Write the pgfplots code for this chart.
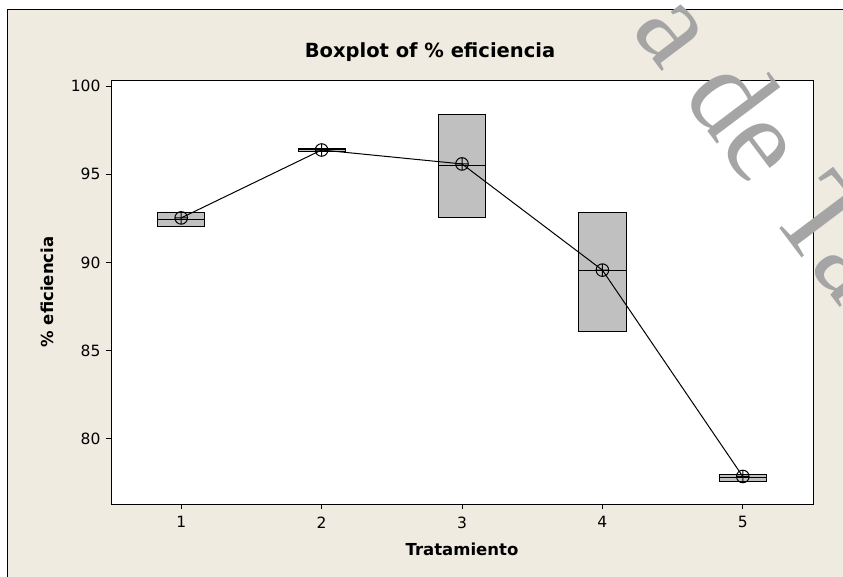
\documentclass[border=0pt]{standalone}
\usepackage{pgfplots}
\pgfplotsset{compat=1.18}
\usepgfplotslibrary{statistics}
\usepackage{fontspec}
\setmainfont{DejaVu Sans}
\newfontfamily\wmfont{Liberation Serif}
\definecolor{mtbg}{RGB}{239,235,224}
\definecolor{boxgray}{RGB}{192,192,192}
\definecolor{wmgray}{RGB}{165,165,165}

\begin{document}
\begin{tikzpicture}[x=1pt,y=1pt]
\path[use as bounding box] (0,0) rectangle (843,577);
\draw[line width=0.8pt, fill=mtbg] (7,-10) rectangle (870,568);
\node[font=\fontsize{19.5}{20}\selectfont\bfseries, anchor=base] at (430,519) {Boxplot of \% eficiencia};
\begin{axis}[
	at={(111pt,73pt)}, anchor=south west,
	scale only axis, width=702pt, height=424pt,
	xmin=0.5, xmax=5.5, ymin=76.3, ymax=100.34,
	xtick={1,2,3,4,5}, ytick={80,85,90,95,100},
	tick align=outside, xtick pos=bottom, ytick pos=left,
	major tick length=5pt,
	tick style={black, line width=0.7pt},
	axis line style={line width=0.9pt},
	axis background/.style={fill=white},
	/pgf/number format/assume math mode=true,
	ticklabel style={font=\fontsize{15.5}{16}\selectfont},
	xticklabel style={yshift=-4pt},
	yticklabel style={xshift=-2pt},
	xlabel={Tratamiento}, ylabel={\% eficiencia},
	label style={font=\fontsize{16.5}{17}\selectfont\bfseries},
	xlabel style={at={(axis description cs:0.5,-0.107)}, anchor=center},
	ylabel style={at={(axis description cs:-0.0912,0.5)}, anchor=center},
	boxplot/draw direction=y,
	boxplot/box extend=0.335,
]
% treatment 1
\addplot[black, fill=boxgray, line width=0.8pt, boxplot prepared={
	lower whisker=92.05, lower quartile=92.05, median=92.46,
	upper quartile=92.86, upper whisker=92.86, draw position=1}] coordinates {};
% treatment 2
\addplot[black, fill=boxgray, line width=0.8pt, boxplot prepared={
	lower whisker=96.28, lower quartile=96.28, median=96.38,
	upper quartile=96.48, upper whisker=96.48, draw position=2}] coordinates {};
% treatment 3
\addplot[black, fill=boxgray, line width=0.8pt, boxplot prepared={
	lower whisker=92.54, lower quartile=92.54, median=95.52,
	upper quartile=98.41, upper whisker=98.41, draw position=3}] coordinates {};
% treatment 4
\addplot[black, fill=boxgray, line width=0.8pt, boxplot prepared={
	lower whisker=86.08, lower quartile=86.08, median=89.52,
	upper quartile=92.82, upper whisker=92.82, draw position=4}] coordinates {};
% treatment 5
\addplot[black, fill=boxgray, line width=0.8pt, boxplot prepared={
	lower whisker=77.58, lower quartile=77.58, median=77.79,
	upper quartile=77.96, upper whisker=77.96, draw position=5}] coordinates {};

% means
\addplot[black, line width=1pt, mark=oplus, mark size=6.3pt] coordinates {
	(1,92.52) (2,96.37) (3,95.58) (4,89.56) (5,77.86)
};
\end{axis}
% watermark
\node[font=\wmfont\fontsize{122}{122}\selectfont, text=wmgray, rotate=-53, anchor=base west, inner sep=0pt] at (630,548) {a de Ta};
\end{tikzpicture}
\end{document}
